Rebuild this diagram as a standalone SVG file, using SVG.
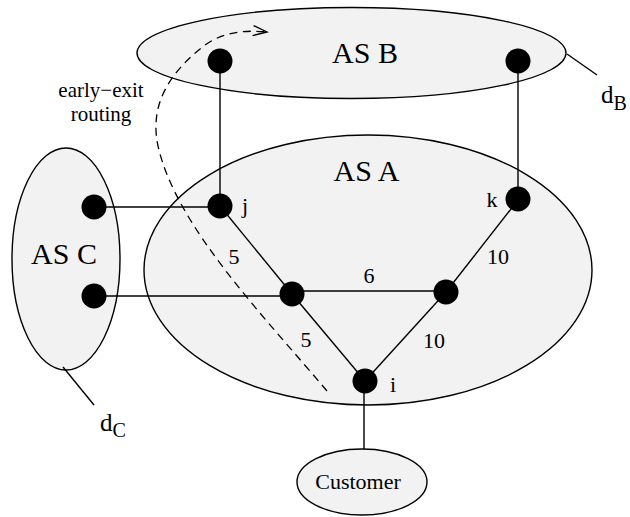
<svg xmlns="http://www.w3.org/2000/svg" width="630" height="517" viewBox="0 0 630 517">
  <style>
    .region { fill: #f2f2f2; stroke: #000; stroke-width: 1.4; }
    .link { stroke: #000; stroke-width: 1.4; fill: none; }
    .route { stroke: #000; stroke-width: 1.3; fill: none; stroke-dasharray: 8 5.5; }
    .router { fill: #000; }
    text { font-family: "Liberation Serif", "Times New Roman", serif; fill: #000; }
    .as { font-size: 30px; text-anchor: middle; }
    .lbl { font-size: 22px; text-anchor: middle; }
    .note { font-size: 21px; text-anchor: middle; }
    .dest { font-size: 25px; }
    .sub { font-size: 20px; }
  </style>
  <defs>
    <marker id="open-arrow" markerUnits="userSpaceOnUse" markerWidth="20" markerHeight="14" refX="14" refY="5" orient="auto" viewBox="0 0 20 14" overflow="visible">
      <path d="M0,0 L14,5 L0,10" fill="none" stroke="#000" stroke-width="1.3"/>
    </marker>
  </defs>

  <!-- autonomous systems and customer -->
  <g id="as-a">
    <ellipse class="region" cx="368" cy="270" rx="224" ry="135"/>
    <text class="as" x="366.5" y="181">AS A</text>
  </g>
  <g id="as-b">
    <ellipse class="region" cx="351.5" cy="53" rx="214.5" ry="45.5"/>
    <text class="as" x="365" y="63">AS B</text>
  </g>
  <g id="as-c">
    <ellipse class="region" cx="66" cy="259" rx="54" ry="111"/>
    <text class="as" x="64" y="264">AS C</text>
  </g>
  <g id="customer">
    <ellipse class="region" cx="362" cy="482" rx="65" ry="33"/>
    <text class="lbl" x="358" y="489" font-size="23">Customer</text>
  </g>

  <!-- links, destination pointers and the route -->
  <g id="connectors">
    <line class="link" x1="220" y1="61" x2="220" y2="206"/>
    <line class="link" x1="518" y1="61" x2="518" y2="200"/>
    <line class="link" x1="94" y1="207" x2="220" y2="207"/>
    <line class="link" x1="94" y1="296" x2="292" y2="296"/>
    <line class="link" x1="220" y1="206" x2="292" y2="294"/>
    <line class="link" x1="292" y1="291" x2="446" y2="291"/>
    <line class="link" x1="292" y1="294" x2="365" y2="381"/>
    <line class="link" x1="446" y1="292" x2="518" y2="200"/>
    <line class="link" x1="446" y1="292" x2="365" y2="381"/>
    <line class="link" x1="364" y1="381" x2="364" y2="449"/>
    <line class="link" x1="567" y1="54" x2="597" y2="75"/>
    <line class="link" x1="63" y1="367" x2="94" y2="405"/>
    <path class="route" d="M327,391 C262,314 176,226 158,146 C149,104 170,72 205,45 C225,31 247,30 267,32" marker-end="url(#open-arrow)"/>
  </g>

  <!-- routers -->
  <g id="router-b1"><circle class="router" cx="220" cy="61" r="12.5"/></g>
  <g id="router-b2"><circle class="router" cx="518" cy="61" r="12.5"/></g>
  <g id="router-c1"><circle class="router" cx="94" cy="207" r="12.5"/></g>
  <g id="router-c2"><circle class="router" cx="94" cy="296" r="12.5"/></g>
  <g id="router-j">
    <circle class="router" cx="220" cy="206" r="12.5"/>
    <text class="lbl" x="245" y="213">j</text>
  </g>
  <g id="router-k">
    <circle class="router" cx="518" cy="199" r="12.5"/>
    <text class="lbl" x="492" y="207">k</text>
  </g>
  <g id="router-m1"><circle class="router" cx="292" cy="294" r="12.5"/></g>
  <g id="router-m2"><circle class="router" cx="446" cy="292" r="12.5"/></g>
  <g id="router-i">
    <circle class="router" cx="365" cy="381" r="12.5"/>
    <text class="lbl" x="393" y="392">i</text>
  </g>

  <!-- link weights -->
  <g id="weights">
    <text class="lbl" x="234" y="264">5</text>
    <text class="lbl" x="369" y="283">6</text>
    <text class="lbl" x="498" y="264">10</text>
    <text class="lbl" x="306" y="347">5</text>
    <text class="lbl" x="434" y="348">10</text>
  </g>

  <!-- annotations -->
  <g id="route-label">
    <text class="note" x="101" y="97">early−exit</text>
    <text class="note" x="101" y="121">routing</text>
  </g>
  <g id="dest-b">
    <text class="dest" x="601" y="103">d<tspan class="sub" dy="7">B</tspan></text>
  </g>
  <g id="dest-c">
    <text class="dest" x="100" y="431">d<tspan class="sub" dy="6">C</tspan></text>
  </g>
</svg>
